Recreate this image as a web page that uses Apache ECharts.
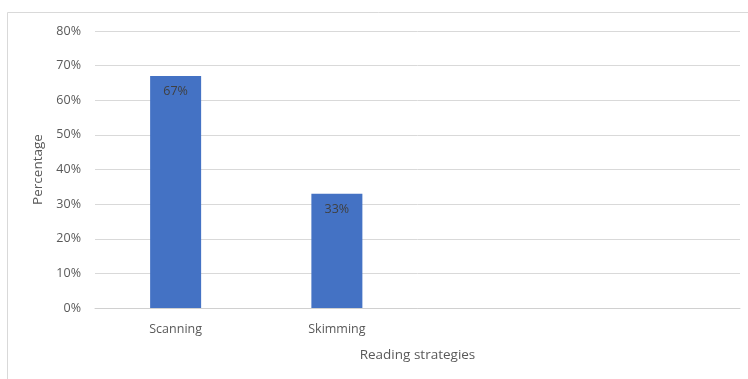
<!DOCTYPE html>
<html>
<head>
<meta charset="utf-8">
<script src="https://cdn.jsdelivr.net/npm/echarts@6/dist/echarts.min.js"></script>
<style>
  html, body { margin: 0; padding: 0; background: #fff; }
  #main { width: 748px; height: 379px; }
</style>
</head>
<body>
<div id="main"></div>
<script>
  // categories (last two slots are empty in the original chart)
  var categories = ['Scanning', 'Skimming', '', '']
  var percentages = [67, 33, null, null]
  var yTicks = [0, 10, 20, 30, 40, 50, 60, 70, 80]

  var myChart = echarts.init(document.getElementById('main'))
  var font = '"Open Sans", sans-serif'
  var option = {
    animation: false,
    backgroundColor: '#fff',
    graphic: [{
      type: 'rect',
      shape: { x: 7.5, y: 12.5, width: 800, height: 400 },
      style: { fill: 'none', stroke: '#d9d9d9', lineWidth: 1 },
      silent: true
    }],
    grid: { left: 95, right: 8, top: 31, bottom: 71 },
    xAxis: {
      type: 'category',
      data: categories,
      name: 'Reading strategies',
      nameLocation: 'middle',
      nameGap: 40,
      nameTextStyle: { color: '#595959', fontSize: 13.5, fontFamily: font },
      axisLine: { lineStyle: { color: '#d0d0d0', width: 1 } },
      axisTick: { show: false },
      axisLabel: { color: '#595959', fontSize: 12.5, fontFamily: font, margin: 15 }
    },
    yAxis: {
      type: 'value',
      min: yTicks[0],
      max: yTicks[yTicks.length - 1],
      interval: 10,
      name: 'Percentage',
      nameLocation: 'middle',
      nameGap: 48,
      nameTextStyle: { color: '#595959', fontSize: 13.5, fontFamily: font },
      axisLine: { show: false },
      axisTick: { show: false },
      splitLine: { lineStyle: { color: '#d9d9d9', width: 1 } },
      axisLabel: { color: '#595959', fontSize: 12.5, fontFamily: font, margin: 14, formatter: '{value}%' }
    },
    series: [{
      type: 'bar',
      data: percentages,
      barWidth: 51,
      itemStyle: { color: '#4472c4' },
      label: {
        show: true,
        position: 'insideTop',
        distance: 9,
        formatter: '{c}%',
        color: '#404040',
        fontSize: 12.5,
        fontFamily: font
      }
    }]
  }
  myChart.setOption(option)
</script>
</body>
</html>
